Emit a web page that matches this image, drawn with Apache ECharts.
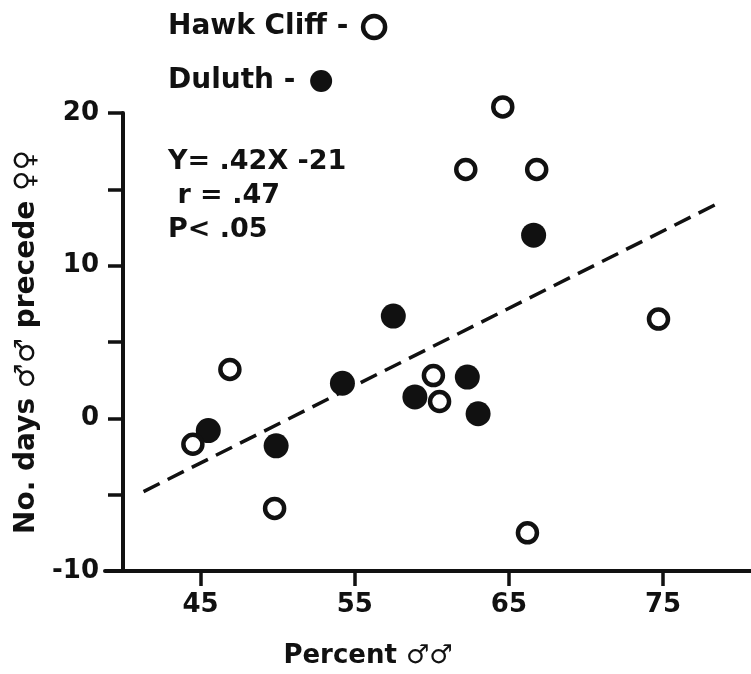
<!DOCTYPE html>
<html>
<head>
<meta charset="utf-8">
<script src="https://cdn.jsdelivr.net/npm/echarts@6/dist/echarts.min.js"></script>
<style>
  html, body { margin: 0; padding: 0; background: #fff; }
  #chart { width: 751px; height: 674px; }
</style>
</head>
<body>
<div id="chart"></div>
<script>
// Hawk Cliff - open circles: [percent males, no. days males precede females]
var hawkCliff = [
  [64.6, 20.4], [62.2, 16.3], [66.8, 16.3], [74.7, 6.5], [46.9, 3.2],
  [60.1, 2.8], [60.5, 1.1], [44.5, -1.7], [49.8, -5.9], [66.2, -7.5]
];
// Duluth - filled circles
var duluth = [
  [66.6, 12.0], [57.5, 6.7], [54.2, 2.3], [58.9, 1.4], [62.3, 2.7],
  [63.0, 0.3], [45.5, -0.8], [49.9, -1.8]
];
// dashed regression line, ends as drawn
var trendX = [41.3, 78.4];
var trendY = [-4.8, 14.0];
var xTicks = [45, 55, 65, 75];
var statsText = ['Y= .42X -21', ' r = .47', 'P< .05'];

var trend = trendX.map(function (x, i) { return [x, trendY[i]]; });
var ink = '#111';
var font = 'DejaVu Sans';

// one legend box per series so both rows start at the same left edge
function legendRow(name, top, border) {
  return {
    data: [name],
    left: 163,
    top: top,
    align: 'right',
    itemWidth: 22,
    itemHeight: 22,
    itemStyle: border ? { borderWidth: 4.5, borderColor: ink, color: '#fff' } : { color: ink },
    formatter: function (n) { return n + ' - '; },
    textStyle: { fontFamily: font, fontWeight: 'bold', fontSize: 28, color: ink }
  };
}

var chart = echarts.init(document.getElementById('chart'), null, { renderer: 'canvas' });
var option = {
  backgroundColor: '#fff',
  animation: false,
  textStyle: { fontFamily: font, fontWeight: 'bold', color: ink },
  title: {
    text: statsText.join('\n'),
    left: 163,
    top: 140,
    textStyle: { fontFamily: font, fontWeight: 'bold', fontSize: 27, lineHeight: 34, color: ink }
  },
  legend: [
    legendRow('Hawk Cliff', 8, true),
    legendRow('Duluth', 62, false)
  ],
  grid: { left: 105, right: 0, top: 113, bottom: 102, containLabel: false },
  xAxis: {
    type: 'value',
    min: 38.8,
    max: 80.7,
    name: 'Percent ♂♂',
    nameLocation: 'middle',
    nameGap: 72,
    nameTextStyle: { fontFamily: font, fontWeight: 'bold', fontSize: 26, color: ink, padding: [0, 120, 0, 0] },
    axisLine: { onZero: false, lineStyle: { color: ink, width: 4 } },
    axisTick: { show: true, customValues: xTicks, length: 15, lineStyle: { color: ink, width: 3.5 } },
    axisLabel: { customValues: xTicks, margin: 21, fontSize: 26, fontWeight: 'bold', color: ink, fontFamily: font },
    splitLine: { show: false }
  },
  yAxis: {
    type: 'value',
    min: -10,
    max: 20,
    interval: 5,
    offset: -18,
    name: 'No. days ♂♂ precede ♀♀',
    nameLocation: 'middle',
    nameGap: 74,
    nameTextStyle: { fontFamily: font, fontWeight: 'bold', fontSize: 28, color: ink },
    axisLine: { show: true, onZero: false, lineStyle: { color: ink, width: 4 } },
    axisTick: { show: true, length: 15, lineStyle: { color: ink, width: 3.5 } },
    axisLabel: {
      margin: 24,
      fontSize: 26,
      fontWeight: 'bold',
      color: ink,
      fontFamily: font,
      formatter: function (v) { return v % 10 === 0 ? String(v) : ''; }
    },
    splitLine: { show: false }
  },
  series: [
    {
      name: 'trend',
      type: 'line',
      data: trend,
      symbol: 'none',
      z: 1,
      lineStyle: { color: ink, width: 3.5, type: [18, 9] }
    },
    {
      name: 'Duluth',
      type: 'scatter',
      data: duluth,
      symbol: 'circle',
      symbolSize: 25,
      clip: false,
      z: 2,
      itemStyle: { color: ink, opacity: 1 }
    },
    {
      name: 'Hawk Cliff',
      type: 'scatter',
      data: hawkCliff,
      symbol: 'circle',
      symbolSize: 19,
      clip: false,
      z: 3,
      itemStyle: { color: '#fff', borderColor: ink, borderWidth: 4.5, opacity: 1 }
    }
  ]
};
chart.setOption(option);
</script>
</body>
</html>
